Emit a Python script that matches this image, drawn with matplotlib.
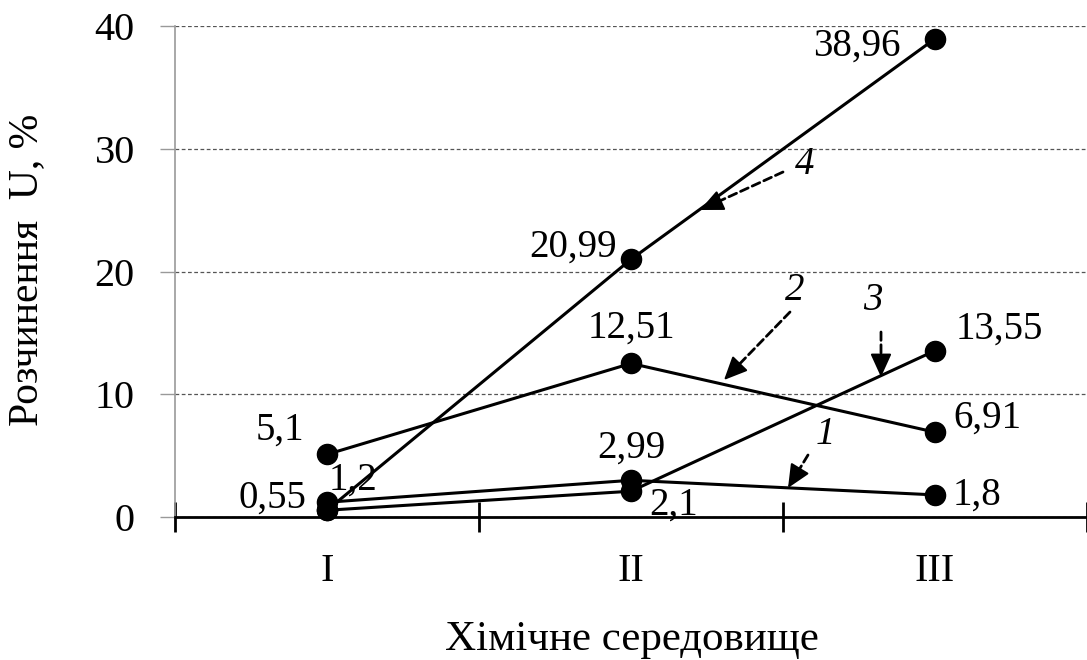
import matplotlib
matplotlib.use("Agg")
import matplotlib.pyplot as plt
import math

categories = ["I", "II", "III"]
s1 = [1.2, 2.99, 1.8]
s2 = [5.1, 12.51, 6.91]
s3 = [0.55, 2.1, 13.55]
s4 = [0.55, 20.99, 38.96]
yticks = [0, 10, 20, 30, 40]

plt.rcParams['font.family'] = ['Liberation Serif', 'DejaVu Serif']

fig = plt.figure(figsize=(10.87, 6.6), dpi=100)
ax = fig.add_axes([175/1087, 1-517/660, 1-175/1087, (517-26)/660])
x = [0.5, 1.5, 2.5]
for s in (s1, s2, s3, s4):
    ax.plot(x, s, color='black', lw=2.2, marker='o', ms=14.5, zorder=3, clip_on=False)

ax.set_xlim(0, (1087-175)/305)
ax.set_ylim(0, 40)
ax.set_yticks(yticks)
ax.set_yticklabels([str(v) for v in yticks], fontsize=29)
ax.yaxis.grid(True, ls=(0, (3, 2)), color='#555555', lw=0.9)
ax.set_axisbelow(True)
ax.tick_params(axis='y', direction='out', length=11, color='#999999', width=1, pad=18)
ax.set_xticks([0, 1, 2, 3])
ax.set_xticklabels([])
ax.set_xticks(x, minor=True)
ax.set_xticklabels(categories, minor=True, fontsize=29)
ax.tick_params(axis='x', which='major', direction='inout', length=22, width=2, color='black')
ax.tick_params(axis='x', which='minor', length=0, pad=26)
for sp in ['top', 'right']:
    ax.spines[sp].set_visible(False)
ax.spines['left'].set_color('#999999')
ax.spines['left'].set_linewidth(1.2)
ax.spines['bottom'].set_linewidth(2)

ax.set_ylabel("Розчинення  U, %", fontsize=30)
ax.yaxis.set_label_coords(-0.141, 0.503)
ax.set_xlabel("Хімічне середовище", fontsize=31)
ax.xaxis.set_label_coords(0.501, -0.21)

fs = 28
def lab(xv, yv, t, dx, dy, ha):
    ax.annotate(t, (xv, yv), xytext=(dx, dy), textcoords='offset pixels', fontsize=fs, ha=ha, va='center')

lab(0.5, s2[0], "5,1", -23, 24, 'right')
lab(0.5, s1[0], "1,2", 2, 22, 'left')
lab(0.5, s3[0], "0,55", -21, 12, 'right')
lab(1.5, s2[1], "12,51", 0, 35, 'center')
lab(1.5, s1[1], "2,99", 0, 32, 'center')
lab(1.5, s3[1], "2,1", 18, -14, 'left')
lab(1.5, s4[1], "20,99", -14, 12, 'right')
lab(2.5, s4[2], "38,96", -34, -7, 'right')
lab(2.5, s3[2], "13,55", 21, 22, 'left')
lab(2.5, s2[2], "6,91", 18, 14, 'left')
lab(2.5, s1[2], "1,8", 18, 0, 'left')

def num(t, tx, ty, px, py):
    tdata = ax.transData.inverted()
    def d(px_, py_):
        return tdata.transform((px_, 660 - py_))
    sx, sy = tx[1], ty[1]
    L = math.hypot(px - sx, py - sy)
    ux, uy = (px - sx) / L, (py - sy) / L
    mx, my = px - ux * 16, py - uy * 16
    ax.annotate("", xy=d(mx, my), xytext=d(sx, sy),
                arrowprops=dict(arrowstyle='-', ls=(0, (3, 1.6)), lw=2.0, color='black',
                                shrinkA=0, shrinkB=0))
    ax.annotate("", xy=d(px, py), xytext=d(mx + ux * 2, my + uy * 2),
                arrowprops=dict(arrowstyle='-|>,head_length=0.55,head_width=0.25', lw=1.5,
                                color='black', mutation_scale=26, shrinkA=0, shrinkB=0))
    tp = d(tx[0], ty[0])
    ax.text(tp[0], tp[1], t, fontsize=fs, style='italic', ha='center', va='center')

fig.canvas.draw()
num("4", (805, 783), (165, 172), 700, 210)
num("2", (795, 790), (290, 312), 724, 380)
num("3", (873, 881), (300, 332), 881, 377)
num("1", (825, 808), (435, 455), 788, 488)

fig.savefig("out.png", dpi=100)
